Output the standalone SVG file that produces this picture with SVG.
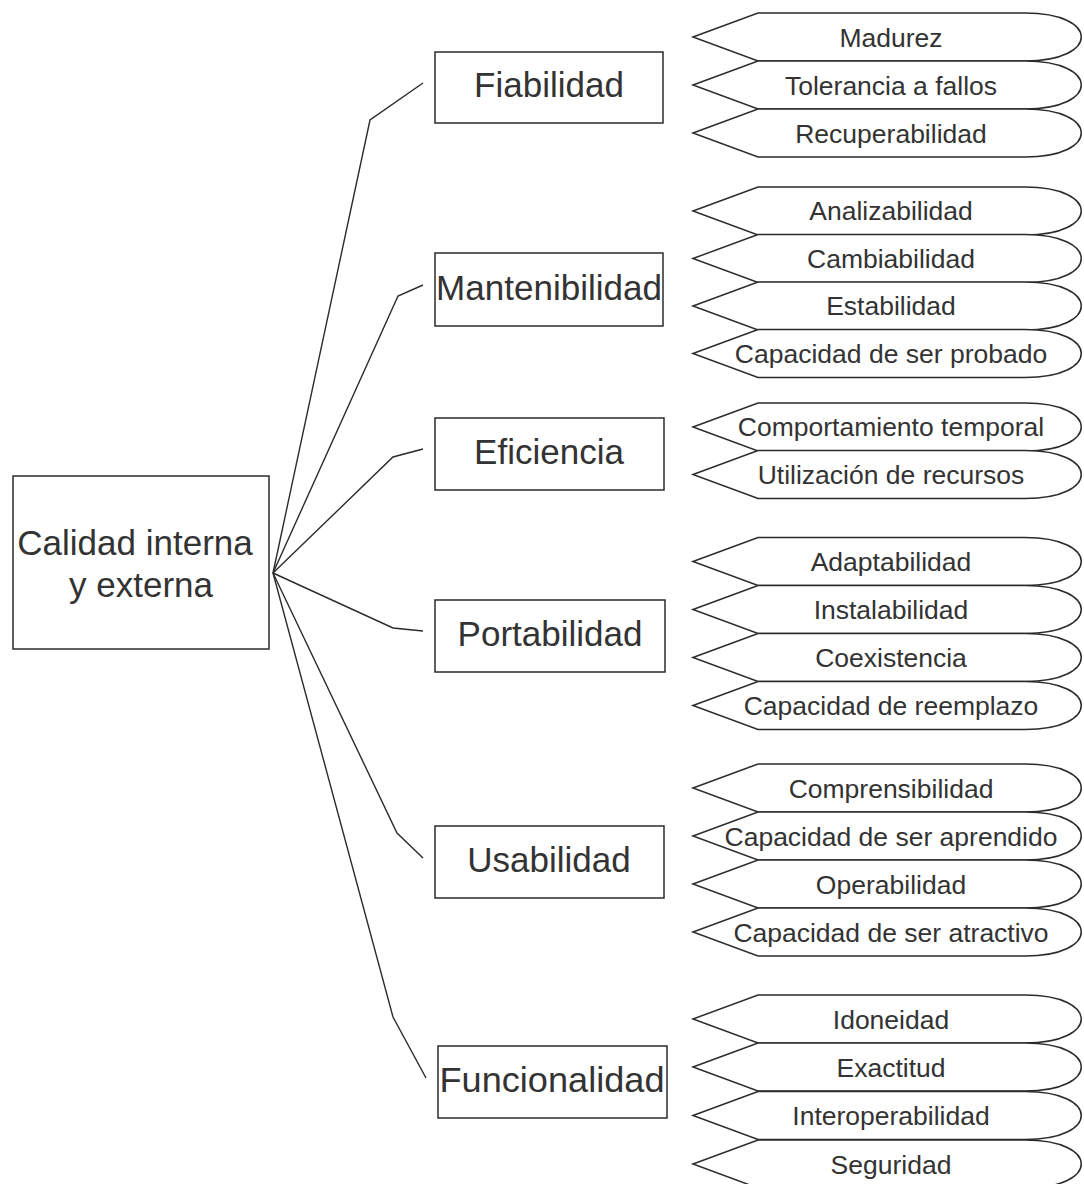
<svg xmlns="http://www.w3.org/2000/svg" width="1084" height="1184" viewBox="0 0 1084 1184">
<style>
.box{fill:#fff;stroke:#2b2b2b;stroke-width:1.5}
.leaf{fill:#fff;stroke:#2b2b2b;stroke-width:1.5}
.con{fill:none;stroke:#2b2b2b;stroke-width:1.4}
.bt{font-family:"Liberation Sans",Arial,sans-serif;font-size:35px;fill:#333;text-anchor:middle}
.lt{font-family:"Liberation Sans",Arial,sans-serif;font-size:26.5px;fill:#333;text-anchor:middle}
</style>
<defs>
<path id="lf" d="M693,24 L758,0 L1025,0 C1100,0 1100,48 1025,48 L758,48 Z"/>
</defs>
<rect width="1084" height="1184" fill="#fff"/>
<g id="connectors">
<polyline class="con" points="273,573 370,120 423,83"/>
<polyline class="con" points="273,573 398,296 423,285"/>
<polyline class="con" points="273,573 393,457 423,449"/>
<polyline class="con" points="273,573 393,628 423,631"/>
<polyline class="con" points="273,573 397,833 423,858"/>
<polyline class="con" points="273,573 393,1017 426,1078"/>
</g>
<g id="root"><rect class="box" x="13" y="476" width="256" height="173"/><text class="bt" x="135" y="555">Calidad interna</text><text class="bt" x="141" y="597">y externa</text></g>
<g id="fiabilidad"><rect class="box" x="435" y="52" width="228" height="71"/><text class="bt" x="549" y="97">Fiabilidad</text></g>
<g id="mantenibilidad"><rect class="box" x="435" y="253" width="228" height="73"/><text class="bt" x="549" y="300" textLength="226" lengthAdjust="spacingAndGlyphs">Mantenibilidad</text></g>
<g id="eficiencia"><rect class="box" x="435" y="418" width="229" height="72"/><text class="bt" x="549" y="464">Eficiencia</text></g>
<g id="portabilidad"><rect class="box" x="435" y="600" width="230" height="72"/><text class="bt" x="550" y="646">Portabilidad</text></g>
<g id="usabilidad"><rect class="box" x="435" y="826" width="229" height="72"/><text class="bt" x="549" y="872">Usabilidad</text></g>
<g id="funcionalidad"><rect class="box" x="438" y="1046" width="229" height="72"/><text class="bt" x="552" y="1092" textLength="225" lengthAdjust="spacingAndGlyphs">Funcionalidad</text></g>
<g id="l-madurez"><use href="#lf" class="leaf" y="13"/><text class="lt" x="891" y="46.5">Madurez</text></g>
<g id="l-tolerancia"><use href="#lf" class="leaf" y="61"/><text class="lt" x="891" y="94.5">Tolerancia a fallos</text></g>
<g id="l-recuperabilidad"><use href="#lf" class="leaf" y="109"/><text class="lt" x="891" y="142.5">Recuperabilidad</text></g>
<g id="l-analizabilidad"><use href="#lf" class="leaf" y="187"/><text class="lt" x="891" y="220">Analizabilidad</text></g>
<g id="l-cambiabilidad"><use href="#lf" class="leaf" y="234.5"/><text class="lt" x="891" y="267.5">Cambiabilidad</text></g>
<g id="l-estabilidad"><use href="#lf" class="leaf" y="282"/><text class="lt" x="891" y="315">Estabilidad</text></g>
<g id="l-probado"><use href="#lf" class="leaf" y="329.5"/><text class="lt" x="891" y="362.5">Capacidad de ser probado</text></g>
<g id="l-comportamiento"><use href="#lf" class="leaf" y="403"/><text class="lt" x="891" y="436">Comportamiento temporal</text></g>
<g id="l-utilizacion"><use href="#lf" class="leaf" y="450.5"/><text class="lt" x="891" y="483.5">Utilización de recursos</text></g>
<g id="l-adaptabilidad"><use href="#lf" class="leaf" y="537.5"/><text class="lt" x="891" y="571">Adaptabilidad</text></g>
<g id="l-instalabilidad"><use href="#lf" class="leaf" y="585.5"/><text class="lt" x="891" y="619">Instalabilidad</text></g>
<g id="l-coexistencia"><use href="#lf" class="leaf" y="633.5"/><text class="lt" x="891" y="667">Coexistencia</text></g>
<g id="l-reemplazo"><use href="#lf" class="leaf" y="681.5"/><text class="lt" x="891" y="715">Capacidad de reemplazo</text></g>
<g id="l-comprensibilidad"><use href="#lf" class="leaf" y="764"/><text class="lt" x="891" y="797.5">Comprensibilidad</text></g>
<g id="l-aprendido"><use href="#lf" class="leaf" y="812"/><text class="lt" x="891" y="845.5">Capacidad de ser aprendido</text></g>
<g id="l-operabilidad"><use href="#lf" class="leaf" y="860"/><text class="lt" x="891" y="893.5">Operabilidad</text></g>
<g id="l-atractivo"><use href="#lf" class="leaf" y="908"/><text class="lt" x="891" y="941.5">Capacidad de ser atractivo</text></g>
<g id="l-idoneidad"><use href="#lf" class="leaf" y="995"/><text class="lt" x="891" y="1028.5">Idoneidad</text></g>
<g id="l-exactitud"><use href="#lf" class="leaf" y="1043"/><text class="lt" x="891" y="1076.5">Exactitud</text></g>
<g id="l-interoperabilidad"><use href="#lf" class="leaf" y="1091.5"/><text class="lt" x="891" y="1125">Interoperabilidad</text></g>
<g id="l-seguridad"><use href="#lf" class="leaf" y="1140"/><text class="lt" x="891" y="1173.5">Seguridad</text></g>
</svg>
